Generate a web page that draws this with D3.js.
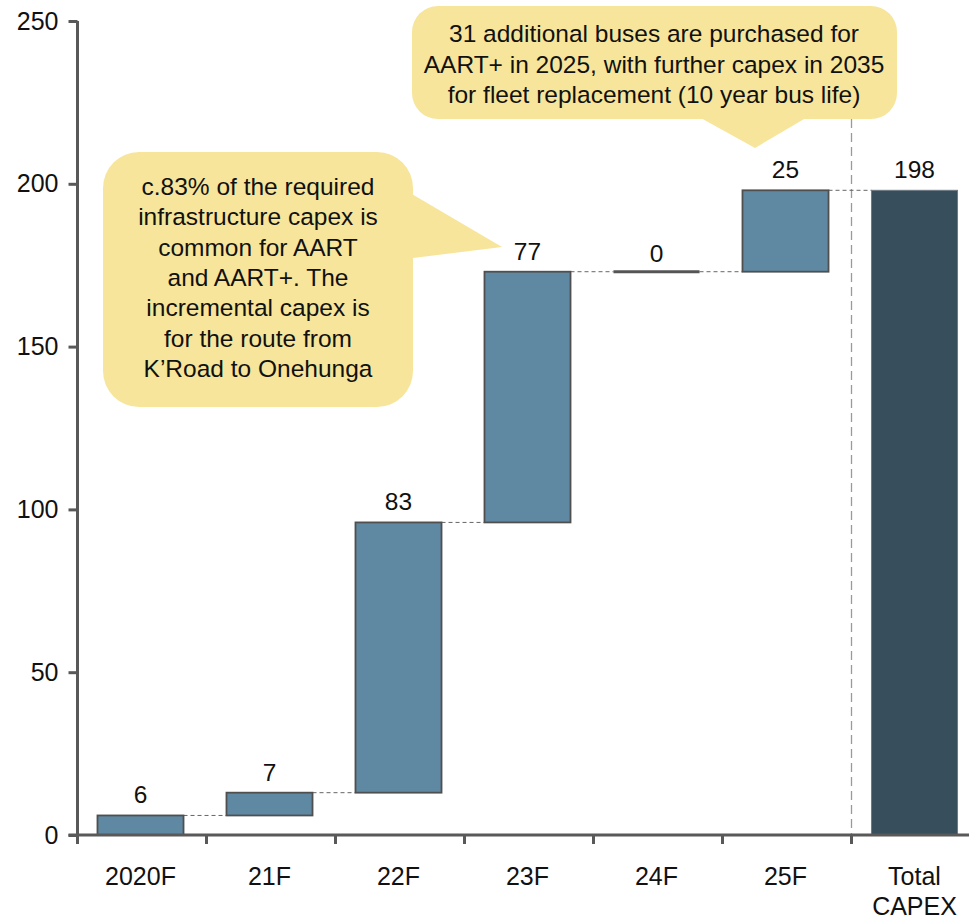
<!DOCTYPE html>
<html>
<head>
<meta charset="utf-8">
<script src="https://cdn.jsdelivr.net/npm/d3@7"></script>
<style>
  body { margin: 0; background: #fff; }
  svg { display: block; font-family: "Liberation Sans", Arial, sans-serif; }
</style>
</head>
<body>
<svg id="chart" width="969" height="920"></svg>
<script>
// ---- data ----
const categories = ["2020F", "21F", "22F", "23F", "24F", "25F", "Total\nCAPEX"];
const increments = [6, 7, 83, 77, 0, 25];
const totalValue = 198;
const yTicks = [0, 50, 100, 150, 200, 250];
const callout1Lines = ["c.83% of the required", "infrastructure capex is", "common for AART", "and AART+. The", "incremental capex is", "for the route from", "K\u2019Road to Onehunga"];
const callout2Lines = ["31 additional buses are purchased for", "AART+ in 2025, with further capex in 2035", "for fleet replacement (10 year bus life)"];

// ---- layout ----
const svg = d3.select("#chart");
const x0 = 77.5, bandW = 129, y0 = 835, yTop = 21, shift = -1.5;
const x = d3.scaleBand().domain(categories).range([x0 + shift, x0 + shift + bandW * categories.length]).paddingInner(0.333).paddingOuter(0.1665);
const y = d3.scaleLinear().domain([0, 250]).range([y0, yTop]);

// build waterfall rows
let cum = 0;
const rows = increments.map((v, i) => {
  const r = { cat: categories[i], start: cum, end: cum + v, value: v, total: false };
  cum += v;
  return r;
});
rows.push({ cat: categories[6], start: 0, end: totalValue, value: totalValue, total: true });

// ---- callouts (behind) ----
const yellow = "#f7e59b";
svg.append("rect").attr("x", 103).attr("y", 152).attr("width", 310).attr("height", 255).attr("rx", 36).attr("fill", yellow);
svg.append("polygon").attr("points", "405,190 502,247 405,259").attr("fill", yellow);
svg.append("rect").attr("x", 412).attr("y", 6).attr("width", 485).attr("height", 113).attr("rx", 26).attr("fill", yellow);
svg.append("polygon").attr("points", "690,112 755,148 816,112").attr("fill", yellow);

const c1 = svg.append("text").attr("text-anchor", "middle").attr("font-size", 24.5).attr("fill", "#111");
callout1Lines.forEach((t, i) => c1.append("tspan").attr("x", 258).attr("y", 195 + i * 30.3).text(t));
const c2 = svg.append("text").attr("text-anchor", "middle").attr("font-size", 24.5).attr("fill", "#111");
callout2Lines.forEach((t, i) => c2.append("tspan").attr("x", 654).attr("y", 42 + i * 30.5).text(t));

// boundaries between categories (tick positions)
const bounds = categories.map(c => x(c) - x.step() * x.paddingOuter() - shift);

// vertical dashed separator
const sepX = bounds[6];
svg.append("line").attr("x1", sepX).attr("x2", sepX).attr("y1", 119).attr("y2", y0)
  .attr("stroke", "#9a9a9a").attr("stroke-width", 1.3).attr("stroke-dasharray", "9,5");

// connectors
for (let i = 0; i < rows.length - 1; i++) {
  const a = rows[i], b = rows[i + 1];
  svg.append("line")
    .attr("x1", x(a.cat) + x.bandwidth()).attr("x2", x(b.cat))
    .attr("y1", y(a.end)).attr("y2", y(a.end))
    .attr("stroke", "#666").attr("stroke-width", 1).attr("stroke-dasharray", "4,3");
}

// bars
rows.forEach(r => {
  if (r.value === 0) {
    svg.append("line").attr("x1", x(r.cat)).attr("x2", x(r.cat) + x.bandwidth())
      .attr("y1", y(r.end)).attr("y2", y(r.end)).attr("stroke", "#555").attr("stroke-width", 3);
  } else {
    svg.append("rect")
      .attr("x", x(r.cat)).attr("width", x.bandwidth())
      .attr("y", y(r.end)).attr("height", y(r.start) - y(r.end))
      .attr("fill", r.total ? "#374e5d" : "#5f89a3")
      .attr("stroke", r.total ? "#6e7a84" : "#4f4f4f")
      .attr("stroke-width", r.total ? 1 : 1.8);
  }
  svg.append("text").attr("x", x(r.cat) + x.bandwidth() / 2).attr("y", y(r.end) - (r.value === 0 ? 10 : 12))
    .attr("text-anchor", "middle").attr("font-size", 24.5).attr("fill", "#111").text(r.value);
});

// y axis
const yAxis = d3.axisLeft(y).tickValues(yTicks).tickSize(9).tickPadding(10);
const gy = svg.append("g").attr("transform", `translate(${x0},0)`).call(yAxis);
gy.select(".domain").attr("stroke", "#595959").attr("stroke-width", 3).attr("d", `M0,${yTop}V${y0}`);
gy.selectAll(".tick line").attr("stroke", "#595959").attr("stroke-width", 3);
gy.selectAll(".tick text").attr("font-size", 25).attr("fill", "#111").attr("font-family", "Liberation Sans, Arial, sans-serif");

// x axis
const xAxis = d3.axisBottom(x).tickSize(0).tickPadding(0).tickFormat(() => "");
const gx = svg.append("g").attr("transform", `translate(0,${y0})`).call(xAxis);
gx.select(".domain").attr("stroke", "#595959").attr("stroke-width", 3).attr("d", `M${x0 - 9},0H${x0 + bandW * 7}`);
gx.selectAll(".tick").each(function(d) {
  const t = d3.select(this).append("text").attr("text-anchor", "middle").attr("font-size", 25).attr("fill", "#111")
    .attr("font-family", "Liberation Sans, Arial, sans-serif");
  d.split("\n").forEach((s, i) => t.append("tspan").attr("x", 0).attr("y", 50 + i * 30).text(s));
});
gx.selectAll("line.bt").data(bounds).enter().append("line").attr("class", "bt")
  .attr("x1", d => d).attr("x2", d => d).attr("y1", 0).attr("y2", 9)
  .attr("stroke", "#595959").attr("stroke-width", 3);
</script>
</body>
</html>
